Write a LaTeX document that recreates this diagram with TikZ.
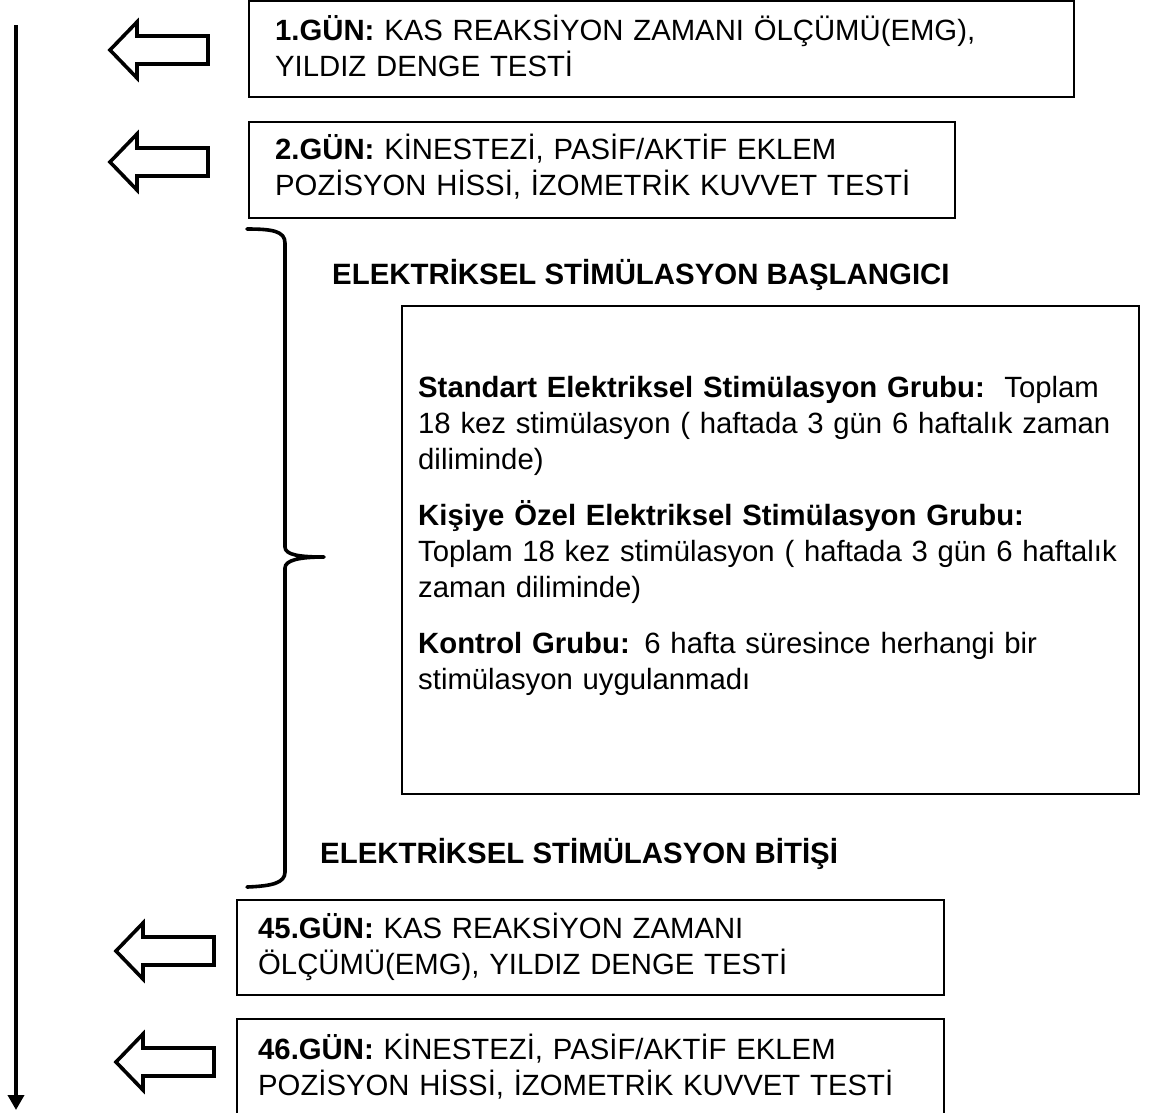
\documentclass[tikz,border=0pt]{standalone}
\usepackage{fontspec}
\setmainfont{Liberation Sans}
\usetikzlibrary{arrows.meta}
\begin{document}
\begin{tikzpicture}[x=1pt,y=-1pt,
  boxframe/.style={draw=black,line width=1.6pt,inner sep=0pt,anchor=north west},
  boxtext/.style={anchor=base west,inner sep=0pt,align=left,text width=#1,
     font=\fontsize{29.3}{36}\selectfont},
  boxtext/.default=900pt,
  heading/.style={anchor=base west,inner sep=0pt,font=\fontsize{29.4}{36}\selectfont\bfseries},
  hollow/.style={draw=black,line width=3.6pt,line join=miter,fill=white},
  harrow/.pic={\draw[hollow] (0,0) -- (27,-28) -- (27,-14) -- (98,-14) -- (98,14) -- (27,14) -- (27,28) -- cycle;},
  timeline/.style={line width=3.6pt,-{Triangle[length=15pt,width=16pt]}},
  bracestyle/.style={line width=3.6pt,line cap=round,line join=round}
]
\useasboundingbox (0,0) rectangle (1150,1112);

% timeline
\coordinate (tstart) at (16,25);
\coordinate (tend) at (16,1110);
\draw[timeline] (tstart) -- (tend);

% hollow arrows
\pic at (110,50) {harrow};
\pic at (110,162) {harrow};
\pic at (116,951) {harrow};
\pic at (116,1062) {harrow};

% boxes
\node[boxframe,minimum width=825pt,minimum height=96pt] (b1) at (248,0) {};
\node[boxtext] (t1) at (275,40) {\textbf{1.GÜN:} KAS REAKSİYON ZAMANI ÖLÇÜMÜ(EMG),\\YILDIZ DENGE TESTİ};

\node[boxframe,minimum width=706pt,minimum height=96pt] (b2) at (248,121) {};
\node[boxtext] (t2) at (275,159) {\textbf{2.GÜN:} KİNESTEZİ, PASİF/AKTİF EKLEM\\POZİSYON HİSSİ, İZOMETRİK KUVVET TESTİ};

\node[heading] (h1) at (332,284) {ELEKTRİKSEL STİMÜLASYON BAŞLANGICI};

\node[boxframe,minimum width=737pt,minimum height=488pt] (big) at (401,305) {};
\node[boxtext] (tbig) at (418,397) {\textbf{Standart Elektriksel Stimülasyon Grubu:}\ \ Toplam\\18 kez stimülasyon ( haftada 3 gün 6 haftalık zaman\\diliminde)\\[20pt]\textbf{Kişiye Özel Elektriksel Stimülasyon Grubu:}\\Toplam 18 kez stimülasyon ( haftada 3 gün 6 haftalık\\zaman diliminde)\\[20pt]\textbf{Kontrol Grubu:} 6 hafta süresince herhangi bir\\stimülasyon uygulanmadı};

\node[heading] (h2) at (320,863) {ELEKTRİKSEL STİMÜLASYON BİTİŞİ};

\node[boxframe,minimum width=707pt,minimum height=95pt] (b45) at (236,899) {};
\node[boxtext] (t45) at (258,938) {\textbf{45.GÜN:} KAS REAKSİYON ZAMANI\\ÖLÇÜMÜ(EMG), YILDIZ DENGE TESTİ};

\node[boxframe,minimum width=707pt,minimum height=110pt] (b46) at (236,1018) {};
\node[boxtext] (t46) at (258,1059) {\textbf{46.GÜN:} KİNESTEZİ, PASİF/AKTİF EKLEM\\POZİSYON HİSSİ, İZOMETRİK KUVVET TESTİ};

% brace
\draw[bracestyle] (247,229) .. controls (272,229) and (285,231) .. (285,243)
  -- (285,547) .. controls (285,555) and (300,557) .. (324,557)
  .. controls (300,557) and (285,560) .. (285,568)
  -- (285,872) .. controls (285,883) and (272,886) .. (247,887);
\end{tikzpicture}
\end{document}
